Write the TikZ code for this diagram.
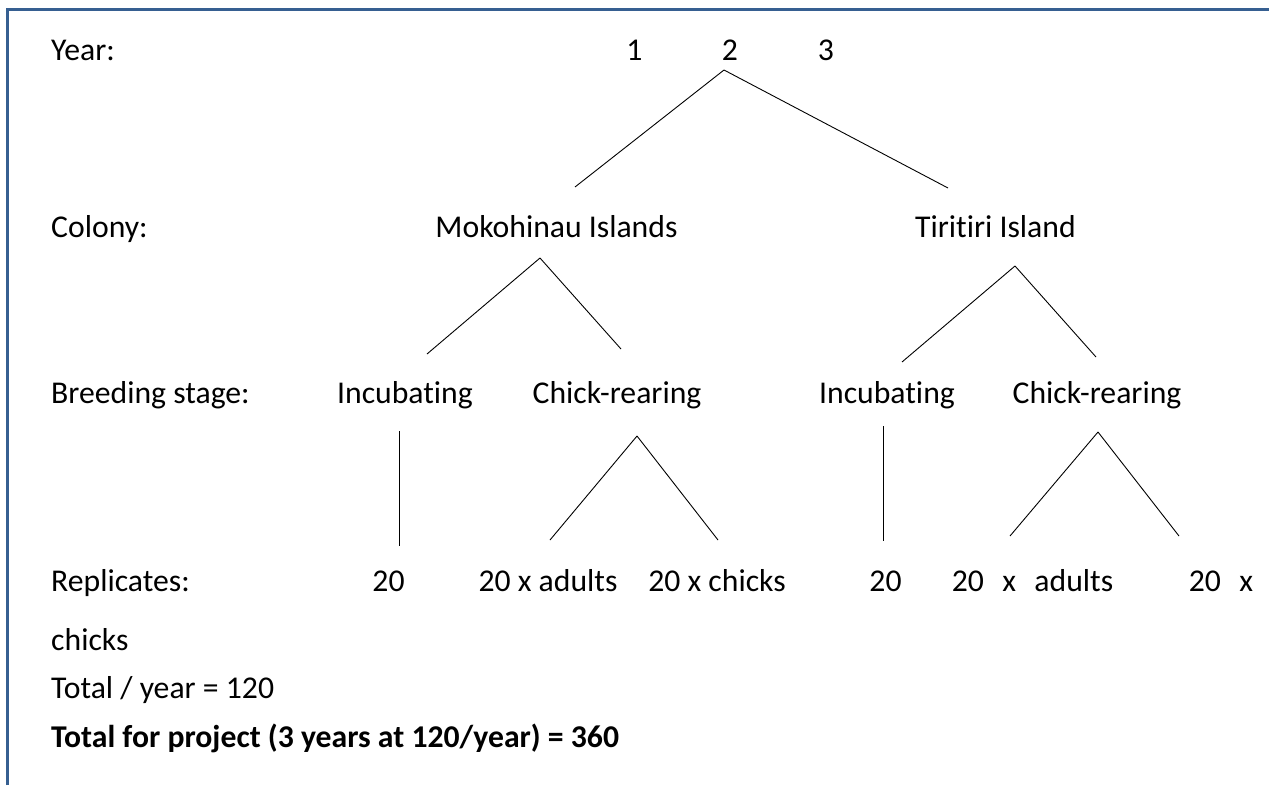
\documentclass[tikz,border=0pt]{standalone}
\usepackage{fontspec}
\setmainfont{Carlito}[Ligatures=NoCommon]
\usetikzlibrary{positioning}
\definecolor{frameblue}{HTML}{365F91}
\tikzset{
  lbl/.style={anchor=base west, inner sep=0pt},
  item/.style={anchor=base, inner sep=0pt},
  branch/.style={draw, line width=0.9pt}
}
\begin{document}
\begin{tikzpicture}[x=1pt, y=-1pt, font=\fontsize{31.7}{38}\selectfont]
          \useasboundingbox (0,0) rectangle (1269,785);
          \draw[frameblue, line width=3pt] (7,785) -- (7,9.5) -- (1269,9.5);
          % row labels
          \node[lbl] (year) at (51,60) {Year:};
          \node[lbl] (colony) at (51,237) {Colony:};
          \node[lbl] (stage) at (51,403) {Breeding stage:};
          \node[lbl] (repl) at (51,591) {Replicates:};
          \node[lbl] (wrap) at (51,650) {chicks};
          \node[lbl] (total) at (51,698) {Total / year = 120};
          \node[lbl] (project) at (51,747) {\bfseries Total for project (3 years at 120/year) = 360};
          % years
          \node[item] (Y1) at (634.5,60) {1};
          \node[item] (Y2) at (730,60) {2};
          \node[item] (Y3) at (826,60) {3};
          % colonies
          \node[item] (M) at (556.5,237) {Mokohinau Islands};
          \node[item] (T) at (995.5,237) {Tiritiri Island};
          % stages
          \node[item] (MI) at (405,403) {Incubating};
          \node[item] (MC) at (617,403) {Chick-rearing};
          \node[item] (TI) at (887,403) {Incubating};
          \node[item] (TC) at (1097,403) {Chick-rearing};
          % replicates
          \node[item] (MI20) at (388.5,591) {20};
          \node[item] (MCa) at (548,591) {20 x adults};
          \node[item] (MCc) at (717,591) {20 x chicks};
          \node[item] (TI20) at (885.5,591) {20};
          \node[item] (TCa) at (1032.5,591) {20\hspace{0.58em}x\hspace{0.58em}adults};
          \node[item] (TCc) at (1221,591) {20\hspace{0.58em}x};
          % branch points
          \coordinate (y0) at (724,70);
          \coordinate (y1) at (575,187);
          \coordinate (y2) at (948,188);
          \coordinate (m0) at (540,258);
          \coordinate (m1) at (427,354);
          \coordinate (m2) at (621,349);
          \coordinate (t0) at (1015,266);
          \coordinate (t1) at (902,362);
          \coordinate (t2) at (1096,357);
          \coordinate (i0) at (399,431);
          \coordinate (i1) at (399,546);
          \coordinate (c0) at (637,436);
          \coordinate (c1) at (550,540);
          \coordinate (c2) at (718,540);
          \coordinate (j0) at (883,426);
          \coordinate (j1) at (883,541);
          \coordinate (d0) at (1098,432);
          \coordinate (d1) at (1010,536);
          \coordinate (d2) at (1179,536);
          \path (y0) edge[branch] (y1) (y0) edge[branch] (y2);
          \path (m0) edge[branch] (m1) (m0) edge[branch] (m2);
          \path (t0) edge[branch] (t1) (t0) edge[branch] (t2);
          \path (i0) edge[branch] (i1);
          \path (c0) edge[branch] (c1) (c0) edge[branch] (c2);
          \path (j0) edge[branch] (j1);
          \path (d0) edge[branch] (d1) (d0) edge[branch] (d2);
        \end{tikzpicture}
\end{document}
